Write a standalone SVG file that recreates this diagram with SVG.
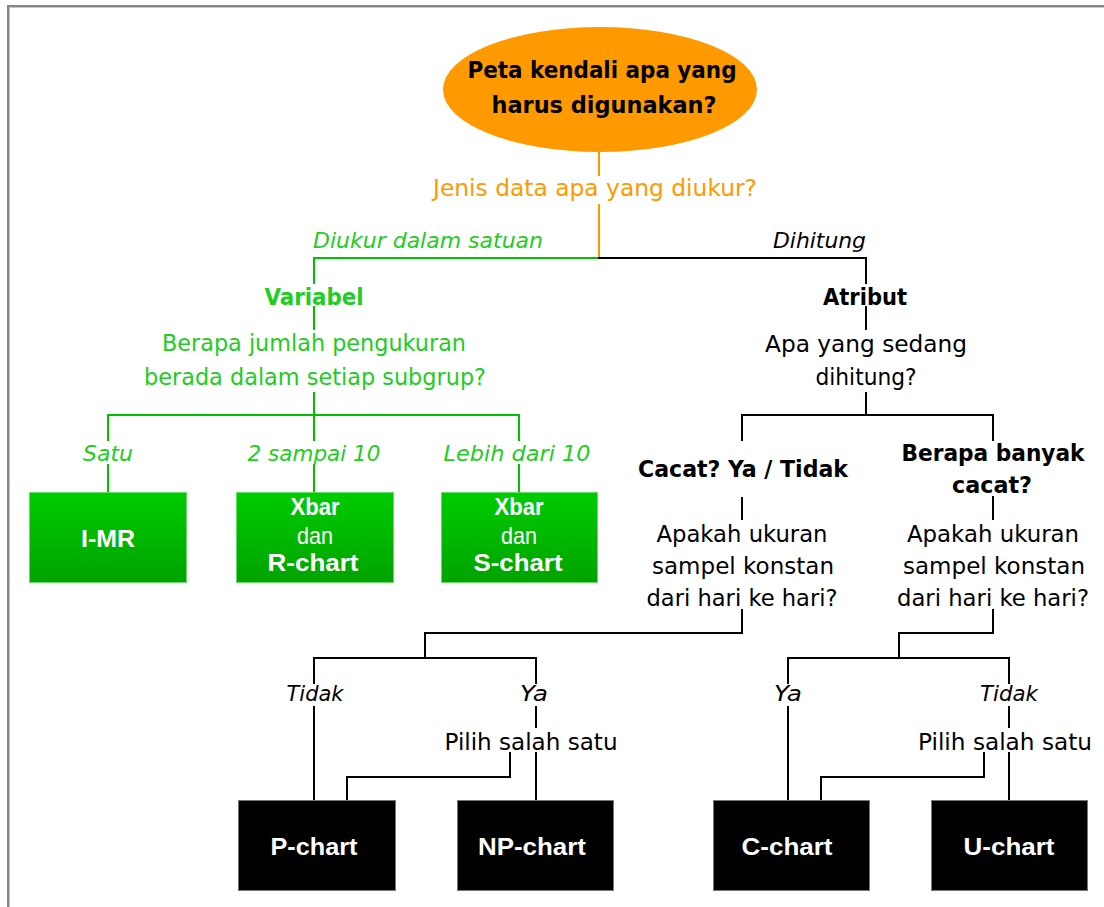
<svg xmlns="http://www.w3.org/2000/svg" width="1104" height="907" viewBox="0 0 1104 907">
<style>
text{font-family:"DejaVu Sans",Verdana,sans-serif;font-size:23px;text-anchor:middle}
.b{font-weight:bold;font-family:"DejaVu Sans Condensed","DejaVu Sans",sans-serif}
.i{font-style:italic;font-size:22px}
.g{fill:#22cc22}
.k{fill:#000}
.o{fill:#ff9900}
.bx{font-family:"Liberation Sans",Arial,sans-serif;fill:#fff;font-size:24px}
.bxb{font-weight:bold}
.ln{fill:none;stroke-width:2;stroke-linecap:square}
.lk{stroke:#000}
.lg{stroke:#00c000}
.lo{stroke:#ff9900}
.gb{fill:url(#gg);stroke:#66dd66;stroke-width:1}
.kb{fill:#000;stroke:#777;stroke-width:1}
</style>
<defs>
<linearGradient id="gg" x1="0" y1="0" x2="0" y2="1">
<stop offset="0" stop-color="#00cc00"/>
<stop offset="1" stop-color="#00a300"/>
</linearGradient>
</defs>
<rect width="1104" height="907" fill="#fff"/>
<g id="frame">
<rect x="7" y="5" width="1097" height="2" fill="#858585"/>
<rect x="7" y="7" width="1097" height="1" fill="#c8c8c8"/>
<rect x="7" y="5" width="2" height="902" fill="#858585"/>
<rect x="9" y="7" width="1" height="900" fill="#c0c0c0"/>
</g>
<g id="connectors">
<path class="ln lo" d="M599 152V175M599 205V258"/>
<path class="ln lg" d="M599 258H314V283M314 307V329M314 393V415M108 440V415H519V440M314 415V440M108 465V492M314 465V492M519 465V492"/>
<path class="ln lk" d="M599 258H866V283M866 307V329M866 393V415M742 440V415H993V440M742 498V519M993 497V519"/>
<path class="ln lk" d="M742 610V633H425V658M314 683V658H536V683M314 707V800M536 707V727M536 753V800M510 753V777H347V800"/>
<path class="ln lk" d="M993 610V633H899V658M788 683V658H1009V683M788 707V800M1009 707V727M1009 753V800M984 753V777H821V800"/>
</g>
<g id="start">
<ellipse cx="600" cy="89.5" rx="157" ry="62.5" fill="#ff9900"/>
<text class="b k" x="602" y="78" font-size="24" textLength="269" lengthAdjust="spacingAndGlyphs">Peta kendali apa yang</text>
<text class="b k" x="604" y="113" font-size="24" textLength="225" lengthAdjust="spacingAndGlyphs">harus digunakan?</text>
</g>
<g id="q-jenis">
<text class="o" x="595" y="196" textLength="324" lengthAdjust="spacingAndGlyphs">Jenis data apa yang diukur?</text>
</g>
<g id="lbl-diukur"><text class="i g" x="428" y="248" textLength="230" lengthAdjust="spacingAndGlyphs">Diukur dalam satuan</text></g>
<g id="lbl-dihitung"><text class="i k" x="866" y="248" style="text-anchor:end" textLength="93" lengthAdjust="spacingAndGlyphs">Dihitung</text></g>
<g id="variabel">
<text class="b g" x="314" y="305" textLength="99" lengthAdjust="spacingAndGlyphs">Variabel</text>
<text class="g" x="314" y="351" textLength="304" lengthAdjust="spacingAndGlyphs">Berapa jumlah pengukuran</text>
<text class="g" x="315" y="385" textLength="342" lengthAdjust="spacingAndGlyphs">berada dalam setiap subgrup?</text>
</g>
<g id="atribut">
<text class="b k" x="865" y="305" textLength="84" lengthAdjust="spacingAndGlyphs">Atribut</text>
<text class="k" x="866" y="352" textLength="202" lengthAdjust="spacingAndGlyphs">Apa yang sedang</text>
<text class="k" x="866" y="385" textLength="101" lengthAdjust="spacingAndGlyphs">dihitung?</text>
</g>
<g id="lbl-satu"><text class="i g" x="108" y="461" textLength="50" lengthAdjust="spacingAndGlyphs">Satu</text></g>
<g id="lbl-2-10"><text class="i g" x="314" y="461" textLength="133" lengthAdjust="spacingAndGlyphs">2 sampai 10</text></g>
<g id="lbl-lebih"><text class="i g" x="517" y="461" textLength="147" lengthAdjust="spacingAndGlyphs">Lebih dari 10</text></g>
<g id="imr">
<rect class="gb" x="29.5" y="492.5" width="157" height="90"/>
<text class="bx bxb" x="108" y="547" textLength="54" lengthAdjust="spacingAndGlyphs">I-MR</text>
</g>
<g id="xbar-r">
<rect class="gb" x="236.5" y="492.5" width="157" height="90"/>
<text class="bx bxb" x="315" y="515" textLength="49" lengthAdjust="spacingAndGlyphs">Xbar</text>
<text class="bx" x="315" y="544" textLength="36" lengthAdjust="spacingAndGlyphs">dan</text>
<text class="bx bxb" x="313" y="571" textLength="91" lengthAdjust="spacingAndGlyphs">R-chart</text>
</g>
<g id="xbar-s">
<rect class="gb" x="441.5" y="492.5" width="156" height="90"/>
<text class="bx bxb" x="519" y="515" textLength="49" lengthAdjust="spacingAndGlyphs">Xbar</text>
<text class="bx" x="519" y="544" textLength="36" lengthAdjust="spacingAndGlyphs">dan</text>
<text class="bx bxb" x="518" y="571" textLength="89" lengthAdjust="spacingAndGlyphs">S-chart</text>
</g>
<g id="cacat-ya-tidak">
<text class="b k" x="743" y="477" textLength="210" lengthAdjust="spacingAndGlyphs">Cacat? Ya / Tidak</text>
<text class="k" x="742" y="542" textLength="171" lengthAdjust="spacingAndGlyphs">Apakah ukuran</text>
<text class="k" x="743" y="574" textLength="182" lengthAdjust="spacingAndGlyphs">sampel konstan</text>
<text class="k" x="742" y="606" textLength="191" lengthAdjust="spacingAndGlyphs">dari hari ke hari?</text>
</g>
<g id="berapa-banyak">
<text class="b k" x="993" y="461" textLength="183" lengthAdjust="spacingAndGlyphs">Berapa banyak</text>
<text class="b k" x="992" y="493" textLength="80" lengthAdjust="spacingAndGlyphs">cacat?</text>
<text class="k" x="993" y="542" textLength="172" lengthAdjust="spacingAndGlyphs">Apakah ukuran</text>
<text class="k" x="994" y="574" textLength="182" lengthAdjust="spacingAndGlyphs">sampel konstan</text>
<text class="k" x="993" y="606" textLength="192" lengthAdjust="spacingAndGlyphs">dari hari ke hari?</text>
</g>
<g id="lbl-tidak-l"><text class="i k" x="315" y="701" textLength="57" lengthAdjust="spacingAndGlyphs">Tidak</text></g>
<g id="lbl-ya-l"><text class="i k" x="534" y="701" textLength="28" lengthAdjust="spacingAndGlyphs">Ya</text></g>
<g id="pilih-l"><text class="k" x="531" y="750" textLength="173" lengthAdjust="spacingAndGlyphs">Pilih salah satu</text></g>
<g id="lbl-ya-r"><text class="i k" x="788" y="701" textLength="28" lengthAdjust="spacingAndGlyphs">Ya</text></g>
<g id="lbl-tidak-r"><text class="i k" x="1009" y="701" textLength="58" lengthAdjust="spacingAndGlyphs">Tidak</text></g>
<g id="pilih-r"><text class="k" x="1005" y="750" textLength="174" lengthAdjust="spacingAndGlyphs">Pilih salah satu</text></g>
<g id="p-chart">
<rect class="kb" x="238.5" y="800.5" width="157" height="90"/>
<text class="bx bxb" x="314" y="855" textLength="87" lengthAdjust="spacingAndGlyphs">P-chart</text>
</g>
<g id="np-chart">
<rect class="kb" x="457.5" y="800.5" width="156" height="90"/>
<text class="bx bxb" x="532" y="855" textLength="108" lengthAdjust="spacingAndGlyphs">NP-chart</text>
</g>
<g id="c-chart">
<rect class="kb" x="713.5" y="800.5" width="156" height="90"/>
<text class="bx bxb" x="787" y="855" textLength="91" lengthAdjust="spacingAndGlyphs">C-chart</text>
</g>
<g id="u-chart">
<rect class="kb" x="931.5" y="800.5" width="156" height="90"/>
<text class="bx bxb" x="1009" y="855" textLength="91" lengthAdjust="spacingAndGlyphs">U-chart</text>
</g>
</svg>
